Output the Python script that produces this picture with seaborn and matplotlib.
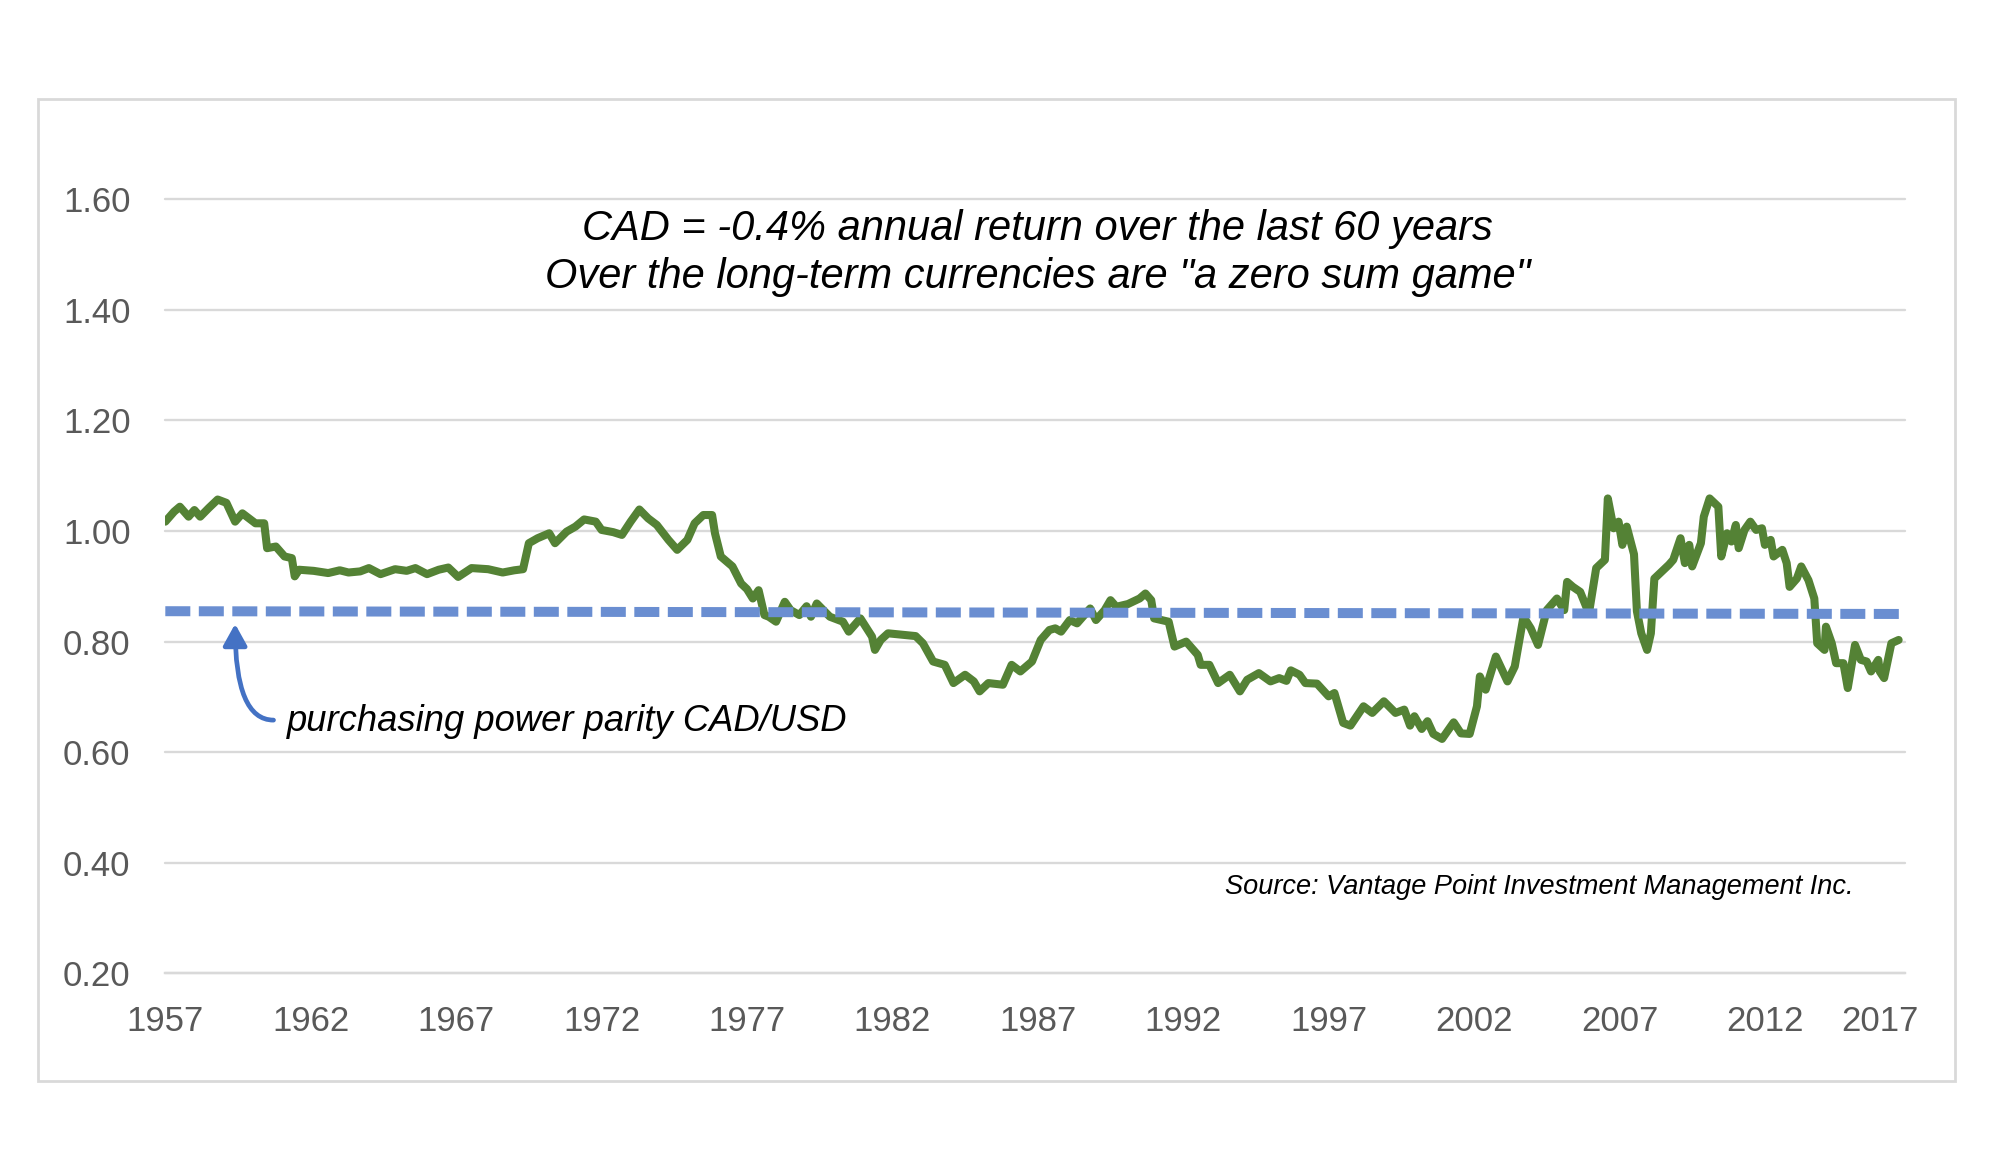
import pandas as pd
import matplotlib.pyplot as plt
import matplotlib.patches as mpatches
import seaborn as sns

# CAD/USD exchange rate (year, value)
cad_years = [
    1957.0, 1957.3, 1957.5, 1957.8, 1958.0, 1958.2, 1958.5, 1958.8, 1959.1, 1959.4,
    1959.65, 1960.1, 1960.4, 1960.5, 1960.8, 1961.1, 1961.35, 1961.45, 1961.6, 1962.1,
    1962.6, 1963.0, 1963.3, 1963.7, 1964.0, 1964.4, 1964.9, 1965.3, 1965.6, 1966.0,
    1966.4, 1966.73, 1967.07, 1967.53, 1968.1, 1968.6, 1969.0, 1969.3, 1969.5, 1969.8,
    1970.2, 1970.4, 1970.8, 1971.1, 1971.4, 1971.8, 1972.0, 1972.4, 1972.7, 1973.0,
    1973.3, 1973.6, 1973.9, 1974.3, 1974.6, 1974.95, 1975.2, 1975.5, 1975.8, 1975.9,
    1976.1, 1976.5, 1976.8, 1977.0, 1977.2, 1977.4, 1977.6, 1977.75, 1978.0, 1978.3,
    1978.5, 1978.8, 1979.05, 1979.2, 1979.4, 1979.85, 1980.3, 1980.5, 1980.9, 1981.3,
    1981.4, 1981.6, 1981.85, 1982.4, 1982.8, 1983.05, 1983.4, 1983.8, 1984.1, 1984.5,
    1984.8, 1985.0, 1985.3, 1985.8, 1986.1, 1986.4, 1986.8, 1987.1, 1987.4, 1987.6,
    1987.8, 1988.1, 1988.35, 1988.8, 1989.0, 1989.3, 1989.5, 1989.7, 1990.1, 1990.5,
    1990.7, 1990.9, 1991.0, 1991.5, 1991.7, 1992.1, 1992.5, 1992.6, 1992.9, 1993.2,
    1993.6, 1993.95, 1994.2, 1994.6, 1995.0, 1995.3, 1995.55, 1995.7, 1996.0, 1996.2,
    1996.6, 1997.0, 1997.2, 1997.5, 1997.75, 1998.2, 1998.5, 1998.9, 1999.3, 1999.6,
    1999.8, 1999.95, 2000.2, 2000.4, 2000.6, 2000.9, 2001.3, 2001.55, 2001.85, 2002.1,
    2002.2, 2002.4, 2002.75, 2003.15, 2003.4, 2003.7, 2003.95, 2004.2, 2004.5, 2004.85,
    2005.1, 2005.2, 2005.4, 2005.65, 2005.95, 2006.2, 2006.5, 2006.6, 2006.8, 2006.97,
    2007.1, 2007.25, 2007.5, 2007.6, 2007.75, 2007.95, 2008.08, 2008.2, 2008.4, 2008.7,
    2008.85, 2009.1, 2009.25, 2009.4, 2009.5, 2009.8, 2009.9, 2010.1, 2010.4, 2010.5,
    2010.7, 2010.85, 2011.0, 2011.1, 2011.3, 2011.5, 2011.7, 2011.9, 2012.0, 2012.2,
    2012.3, 2012.6, 2012.75, 2012.85, 2013.1, 2013.25, 2013.5, 2013.7, 2013.8, 2014.05,
    2014.1, 2014.3, 2014.45, 2014.7, 2014.85, 2015.1, 2015.3, 2015.5, 2015.65, 2015.9,
    2015.95, 2016.1, 2016.35, 2016.6,
]
cad_rate = [
    1.017, 1.035, 1.044, 1.026, 1.038, 1.026, 1.042, 1.057, 1.051, 1.017,
    1.032, 1.014, 1.014, 0.969, 0.972, 0.954, 0.951, 0.918, 0.930, 0.928,
    0.924, 0.929, 0.925, 0.927, 0.933, 0.922, 0.931, 0.928, 0.933, 0.922,
    0.930, 0.934, 0.917, 0.933, 0.931, 0.925, 0.929, 0.931, 0.978, 0.987,
    0.996, 0.978, 0.999, 1.008, 1.021, 1.017, 1.002, 0.998, 0.993, 1.017,
    1.039, 1.023, 1.011, 0.984, 0.966, 0.984, 1.014, 1.029, 1.029, 0.996,
    0.954, 0.936, 0.905, 0.895, 0.878, 0.893, 0.848, 0.845, 0.836, 0.872,
    0.857, 0.848, 0.864, 0.845, 0.869, 0.845, 0.836, 0.818, 0.842, 0.809,
    0.785, 0.803, 0.815, 0.812, 0.810, 0.797, 0.764, 0.758, 0.725, 0.740,
    0.728, 0.710, 0.725, 0.722, 0.758, 0.746, 0.764, 0.803, 0.821, 0.824,
    0.818, 0.839, 0.833, 0.860, 0.839, 0.857, 0.875, 0.863, 0.868, 0.878,
    0.887, 0.875, 0.842, 0.836, 0.791, 0.800, 0.776, 0.758, 0.758, 0.725,
    0.740, 0.710, 0.731, 0.743, 0.728, 0.734, 0.729, 0.748, 0.740, 0.725,
    0.724, 0.701, 0.707, 0.653, 0.648, 0.683, 0.671, 0.692, 0.671, 0.677,
    0.648, 0.665, 0.642, 0.656, 0.633, 0.624, 0.654, 0.634, 0.633, 0.683,
    0.737, 0.713, 0.773, 0.728, 0.755, 0.845, 0.824, 0.794, 0.857, 0.878,
    0.857, 0.908, 0.899, 0.890, 0.851, 0.933, 0.948, 1.059, 1.005, 1.017,
    0.975, 1.008, 0.958, 0.855, 0.815, 0.785, 0.815, 0.914, 0.924, 0.939,
    0.948, 0.987, 0.942, 0.975, 0.936, 0.978, 1.026, 1.059, 1.044, 0.954,
    0.996, 0.981, 1.011, 0.969, 1.002, 1.017, 1.002, 1.005, 0.975, 0.984,
    0.954, 0.966, 0.942, 0.899, 0.914, 0.936, 0.911, 0.878, 0.797, 0.785,
    0.827, 0.797, 0.761, 0.761, 0.716, 0.794, 0.767, 0.764, 0.746, 0.767,
    0.746, 0.734, 0.797, 0.803,
]

# purchasing power parity line
ppp_years = [1957.0, 2016.8]
ppp_rate = [0.855, 0.850]

tick_years = [1957, 1962, 1967, 1972, 1977, 1982, 1987, 1992, 1997, 2002, 2007, 2012]
last_label = "2017"
y_ticks = [0.20, 0.40, 0.60, 0.80, 1.00, 1.20, 1.40, 1.60]

title_lines = ["CAD = -0.4% annual return over the last 60 years",
               'Over the long-term currencies are "a zero sum game"']
ppp_note = "purchasing power parity CAD/USD"
source_note = "Source: Vantage Point Investment Management Inc."

GREEN = "#548235"
BLUE_DASH = "#6A8ED1"
ARROW = "#4472C4"
GRID = "#D9D9D9"
TICK_TXT = "#595959"

sns.set_theme(style="white")
plt.rcParams['font.family'] = ['Liberation Sans', 'DejaVu Sans']

df_cad = pd.DataFrame({"year": cad_years, "rate": cad_rate})
df_ppp = pd.DataFrame({"year": ppp_years, "rate": ppp_rate})

fig = plt.figure(figsize=(19.99, 11.63), dpi=100)
ax = fig.add_axes([0.0827, 0.1631, 0.953 - 0.0827, 0.8286 - 0.1631])

# outer frame around the chart
fig.patches.append(mpatches.Rectangle((0.019, 0.0705), 0.959, 0.8444, transform=fig.transFigure,
                                      fill=False, edgecolor=GRID, linewidth=2, zorder=0))

sns.lineplot(data=df_cad, x="year", y="rate", color=GREEN, linewidth=5.8,
             solid_joinstyle="round", solid_capstyle="round", ax=ax, zorder=3)
sns.lineplot(data=df_ppp, x="year", y="rate", color=BLUE_DASH, linewidth=7.2,
             linestyle=(0, (2.5, 0.85)), ax=ax, zorder=4)

ax.set_xlim(1957, 2016.82)
ax.set_ylim(0.2, 1.6)
ax.set_yticks(y_ticks, labels=[f"{v:.2f}" for v in y_ticks])
ax.set_xticks(tick_years, labels=[str(y) for y in tick_years])
# Excel squeezes the last year label inside the plot area, without a tick
ax.set_xticks([2015.95], labels=[last_label], minor=True)

ax.grid(axis="y", color=GRID, linewidth=1.7)
ax.grid(axis="x", visible=False)
for gl in ax.yaxis.get_gridlines():
    gl.set_clip_on(False)
for s in ["top", "right", "left"]:
    ax.spines[s].set_visible(False)
ax.spines["bottom"].set_color(GRID)
ax.spines["bottom"].set_linewidth(1.7)

ax.tick_params(axis="y", length=0, pad=25, labelsize=25, labelcolor=TICK_TXT)
ax.tick_params(axis="x", which="major", length=8.6, width=1.7, color=GRID, pad=14.5,
               labelsize=25, labelcolor=TICK_TXT)
ax.tick_params(axis="x", which="minor", length=0, pad=23.1, labelsize=25, labelcolor=TICK_TXT)
ax.set_xlabel("")
ax.set_ylabel("")

ax.text(1986.98, 1.546, title_lines[0], ha="center", va="center", fontsize=30, style="italic", color="black")
ax.text(1986.98, 1.459, title_lines[1], ha="center", va="center", fontsize=30, style="italic", color="black")

ax.text(1961.18, 0.656, ppp_note, ha="left", va="center", fontsize=26.2, style="italic", color="black")
ax.annotate("", xy=(1959.40, 0.832), xytext=(1960.72, 0.658),
            arrowprops=dict(arrowstyle="-|>,head_length=0.65,head_width=0.36", color=ARROW, lw=3.4,
                            mutation_scale=20, shrinkA=0, shrinkB=0,
                            connectionstyle="angle3,angleA=180,angleB=90"))

ax.text(2015.04, 0.356, source_note, ha="right", va="center", fontsize=19.5, style="italic", color="black")

fig.savefig("out.png", dpi=100, facecolor="white")
